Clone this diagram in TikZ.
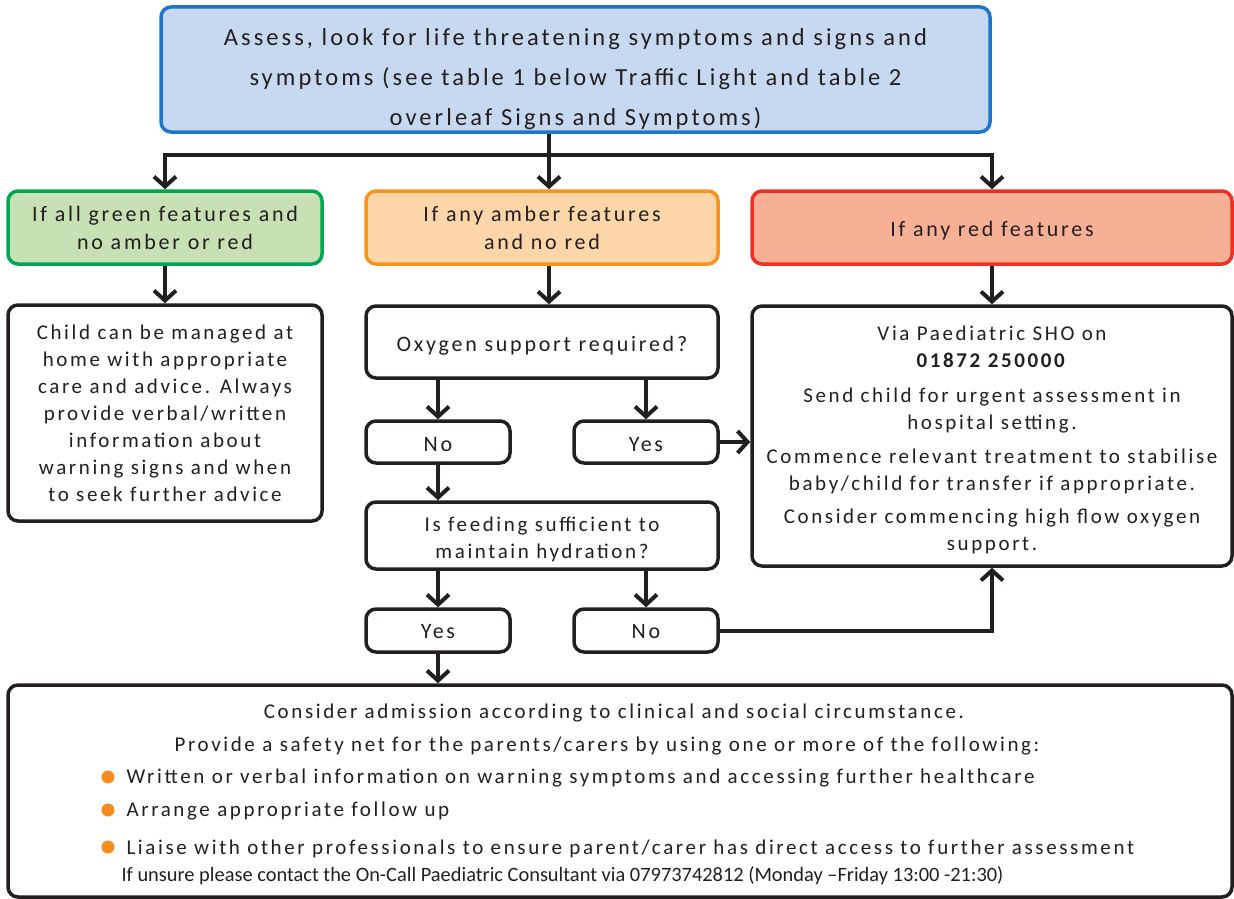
\documentclass[tikz,border=0pt]{standalone}
\usepackage{fontspec}
\setmainfont{Carlito}[LetterSpace=12.5]
\newfontfamily\smallfont{Carlito}
\usetikzlibrary{arrows.meta}
\definecolor{ink}{RGB}{35,31,32}
\definecolor{bluefill}{RGB}{198,217,240}
\definecolor{blueline}{RGB}{30,118,200}
\definecolor{greenfill}{RGB}{200,225,180}
\definecolor{greenline}{RGB}{0,166,81}
\definecolor{amberfill}{RGB}{252,213,168}
\definecolor{amberline}{RGB}{247,148,29}
\definecolor{redfill}{RGB}{247,176,150}
\definecolor{redline}{RGB}{236,50,36}
\definecolor{dot}{RGB}{247,140,30}
% centred lines of text, drawn lower by #1 without changing the box size
\newcommand\dropped[2]{\raisebox{-#1}[\height][\depth]{\begin{tabular}{@{}c@{}}#2\end{tabular}}}
\begin{document}
\begin{tikzpicture}[x=1pt,y=-1pt,
  box/.style={draw=ink, line width=3.5pt, rounded corners=10pt, fill=white,
    inner sep=0pt, text=ink},
  arr/.style={line width=4pt, draw=ink, -{Straight Barb[length=10pt,width=22pt]}},
  link/.style={line width=4pt, draw=ink},
  big/.style={font=\fontsize{24.5}{40}\selectfont},
  mid/.style={font=\fontsize{22}{28}\selectfont},
  body/.style={font=\fontsize{21}{27}\selectfont},
]
\useasboundingbox (0,0) rectangle (1234,899);

% top assessment box
\node[box, big, draw=blueline, fill=bluefill, minimum width=829pt, minimum height=125pt]
  (top) at (575.5,69.5) {\dropped{8.5pt}{Assess, look for life threatening symptoms and signs and\\
   symptoms (see table 1 below Traffic Light and table 2\\
   overleaf Signs and Symptoms)}};

% traffic light boxes
\node[box, mid, draw=greenline, fill=greenfill, minimum width=314pt, minimum height=73pt]
  (green) at (165,227.5) {\dropped{2pt}{If all green features and\\ no amber or red}};
\node[box, mid, draw=amberline, fill=amberfill, minimum width=352pt, minimum height=73pt]
  (amber) at (542,227.5) {\dropped{2pt}{If any amber features\\ and no red}};
\node[box, mid, draw=redline, fill=redfill, minimum width=480pt, minimum height=73pt]
  (red) at (992,227.5) {\dropped{3pt}{If any red features}};

% green outcome
\node[box, body, minimum width=314pt, minimum height=216pt] (home) at (165,413)
  {\dropped{2.5pt}{Child can be managed at\\ home with appropriate\\ care and advice. Always\\
   provide verbal/written\\ information about\\ warning signs and when\\
   to seek further advice}};

% amber pathway
\node[box, mid, minimum width=352pt, minimum height=72pt] (oxy) at (542,342)
  {\dropped{4pt}{Oxygen support required?}};
\node[box, mid, minimum width=144pt, minimum height=42pt] (no1) at (438,442) {\dropped{3.5pt}{No}};
\node[box, mid, minimum width=144pt, minimum height=42pt] (yes1) at (646,442) {\dropped{3.5pt}{Yes}};
\node[box, body, minimum width=352pt, minimum height=67pt] (feed) at (542,535.5)
  {\dropped{4pt}{Is feeding sufficient to\\ maintain hydration?}};
\node[box, mid, minimum width=144pt, minimum height=43pt] (yes2) at (438,630.5) {\dropped{2pt}{Yes}};
\node[box, mid, minimum width=144pt, minimum height=43pt] (no2) at (646,630.5) {\dropped{2pt}{No}};

% red outcome
\node[box, body, minimum width=480pt, minimum height=260pt] (urgent) at (992,436)
  {\dropped{4.5pt}{Via Paediatric SHO on\\ \textbf{01872 250000}\\[8pt]
   Send child for urgent assessment in\\ hospital setting.\\[7pt]
   Commence relevant treatment to stabilise\\ baby/child for transfer if appropriate.\\[6pt]
   Consider commencing high flow oxygen\\ support.}};

% admission / safety net box
\node[box, minimum width=1224pt, minimum height=212pt] (admit) at (620,791) {};
\node[body, text=ink, anchor=base] (a1) at (614,718)
  {Consider admission according to clinical and social circumstance.};
\node[body, text=ink, anchor=base] (a2) at (607,751)
  {Provide a safety net for the parents/carers by using one or more of the following:};
\node[body, text=ink, anchor=base west] (a3) at (123,783)
  {Written or verbal information on warning symptoms and accessing further healthcare};
\node[body, text=ink, anchor=base west] (a4) at (123,816)
  {Arrange appropriate follow up};
\node[body, text=ink, anchor=base west] (a5) at (123,854)
  {Liaise with other professionals to ensure parent/carer has direct access to further assessment};
\node[text=ink, anchor=base west, font=\smallfont\fontsize{20.4}{22}\selectfont] (a6) at (118,881)
  {If unsure please contact the On-Call Paediatric Consultant via 07973742812 (Monday –Friday 13:00 -21:30)};
\fill[dot] (108,777) circle (6.5pt);
\fill[dot] (108,810) circle (6.5pt);
\fill[dot] (108,847) circle (6.5pt);

% connectors
\coordinate (split) at (549,155);
\draw[link] (top.south -| split) -- (split);
\draw[arr] (split) -| (green.north);
\draw[arr] (split) -| (red.north);
\draw[arr] (split) -- (split |- amber.north);
\draw[arr] (green) -- (home);
\draw[arr] (amber.south -| split) -- (oxy.north -| split);
\draw[arr] (red) -- (urgent);
\draw[arr] (oxy.south -| no1) -- (no1);
\draw[arr] (oxy.south -| yes1) -- (yes1);
\draw[arr] (yes1) -- (urgent.west |- yes1);
\draw[arr] (no1) -- (feed.north -| no1);
\draw[arr] (feed.south -| yes2) -- (yes2);
\draw[arr] (feed.south -| no2) -- (no2);
\draw[arr] (no2) -| (urgent.south);
\draw[arr] (yes2) -- (admit.north -| yes2);
\end{tikzpicture}
\end{document}
